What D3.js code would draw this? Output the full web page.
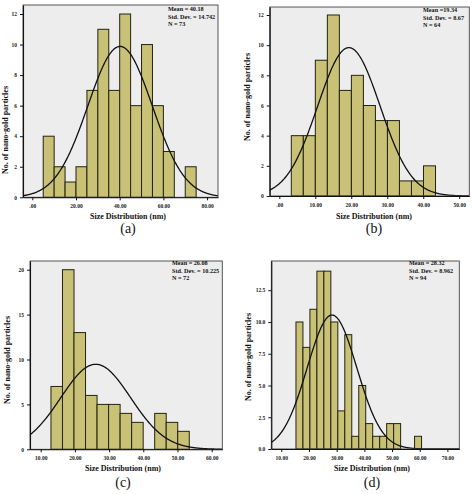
<!DOCTYPE html>
<html><head><meta charset="utf-8">
<script src="https://cdn.jsdelivr.net/npm/d3@7"></script>
<style>body{margin:0;background:#fff}svg{display:block}</style>
</head><body>
<svg id="c" width="474" height="494"></svg>
<script>
// ---- data ----
const panelLabels = ["(a)", "(b)", "(c)", "(d)"];
const binStartA = 5, binWidthA = 5;
const countsA = [4, 2, 1, 2, 7, 11, 7, 12, 6, 10, 6, 3, 0, 2];
const binStartB = 3.33, binWidthB = 3.34;
const countsB = [4, 4, 9, 12, 7, 8, 6, 5, 5, 1, 1, 2];
const binStartC = 13.0, binWidthC = 3.37;
const countsC = [7, 20, 13, 6, 5, 5, 4, 3, 0, 4, 3, 2];
const binStartD = 15.3, binWidthD = 2.52;
const countsD = [10, 8, 11, 14, 14, 10, 3, 9, 1, 5, 2, 1, 1, 2, 2, 0, 0, 1];
const means = [40.18, 19.34, 26.08, 28.32];
const stdDevs = [14.742, 8.67, 10.225, 8.962];
const ns = [73, 64, 72, 94];
const meanText = ["Mean = 40.18", "Mean =19.34", "Mean = 26.08", "Mean = 28.32"];
const sdText = ["Std. Dev. = 14.742", "Std. Dev. = 8.67", "Std. Dev. = 10.225", "Std. Dev. = 8.962"];
const nText = ["N = 73", "N = 64", "N = 72", "N = 94"];
const xTicksA = [0, 20, 40, 60, 80];
const xTicksB = [0, 10, 20, 30, 40, 50];
const xTicksC = [10, 20, 30, 40, 50, 60];
const xTicksD = [10, 20, 30, 40, 50, 60, 70];
const yTicksA = [0, 2, 4, 6, 8, 10, 12];
const yTicksB = [0, 2, 4, 6, 8, 10, 12];
const yTicksC = [0, 5, 10, 15, 20];
const yTicksD = [0, 2.5, 5, 7.5, 10, 12.5];
const xTitle = "Size Distribution (nm)";
const yTitle = "No. of nano-gold particles";

// ---- layout ----
const panels = [
  {counts: countsA, start: binStartA, w: binWidthA, xt: xTicksA, yt: yTicksA, yfmt: d => d,
   box: [23, 218, 5, 197.3], xd: [-4.26, 85], yd: [0, 12.59], tx: 128, ty: 219, ly: 233, yl: [5, 130], lg: [168, 11]},
  {counts: countsB, start: binStartB, w: binWidthB, xt: xTicksB, yt: yTicksB, yfmt: d => d,
   box: [269.7, 469.3, 7, 196], xd: [-2.67, 52.8], yd: [0, 12.53], tx: 374, ty: 219, ly: 233, yl: [247, 97], lg: [423, 12]},
  {counts: countsC, start: binStartC, w: binWidthC, xt: xTicksC, yt: yTicksC, yfmt: d => d,
   box: [30, 222.3, 261, 449.3], xd: [6.87, 63.1], yd: [0, 20.97], tx: 123, ty: 471, ly: 487, yl: [7, 360], lg: [172, 265]},
  {counts: countsD, start: binStartD, w: binWidthD, xt: xTicksD, yt: yTicksD, yfmt: d3.format(".1f"),
   box: [271.3, 459.3, 261, 449], xd: [6.39, 74.3], yd: [0, 14.8], tx: 372, ty: 471, ly: 487, yl: [248, 357], lg: [409, 265]}
];

const svg = d3.select("#c");
const serif = "Liberation Serif, Times New Roman, serif";
const xfmt = d => d === 0 ? ".00" : d3.format(".2f")(d);

panels.forEach((p, i) => {
  const [x0, x1, y0, y1] = p.box;
  const x = d3.scaleLinear().domain(p.xd).range([x0, x1]);
  const y = d3.scaleLinear().domain(p.yd).range([y1, y0]);
  const g = svg.append("g");
  g.append("rect").attr("x", x0).attr("y", y0).attr("width", x1 - x0).attr("height", y1 - y0)
    .attr("fill", "#ededed");
  const bins = p.counts.map((c, k) => ({a: p.start + k * p.w, b: p.start + (k + 1) * p.w, c}));
  g.selectAll("rect.bar").data(bins.filter(d => d.c > 0)).join("rect").attr("class", "bar")
    .attr("x", d => x(d.a)).attr("width", d => x(d.b) - x(d.a))
    .attr("y", d => y(d.c)).attr("height", d => y(0) - y(d.c))
    .attr("fill", "#c8c176").attr("stroke", "#232313").attr("stroke-width", 1);
  // normal curve
  const m = means[i], s = stdDevs[i], n = ns[i];
  const pts = d3.range(0, 301).map(k => {
    const xv = p.xd[0] + (p.xd[1] - p.xd[0]) * k / 300;
    const yv = n * p.w / (s * Math.sqrt(2 * Math.PI)) * Math.exp(-0.5 * ((xv - m) / s) ** 2);
    return [xv, yv];
  });
  g.append("path").datum(pts).attr("fill", "none").attr("stroke", "#111").attr("stroke-width", 1.3)
    .attr("d", d3.line().x(d => x(d[0])).y(d => y(d[1])));
  // frame
  g.append("rect").attr("x", x0).attr("y", y0).attr("width", x1 - x0).attr("height", y1 - y0)
    .attr("fill", "none").attr("stroke", "#444").attr("stroke-width", 0.9);
  // axes
  const xa = g.append("g").attr("transform", `translate(0,${y1})`)
    .call(d3.axisBottom(x).tickValues(p.xt).tickFormat(xfmt).tickSize(3).tickSizeOuter(0));
  const ya = g.append("g").attr("transform", `translate(${x0},0)`)
    .call(d3.axisLeft(y).tickValues(p.yt).tickFormat(p.yfmt).tickSize(3).tickSizeOuter(0));
  [xa, ya].forEach(a => {
    a.select(".domain").attr("stroke", "#111").attr("stroke-width", 1.1);
    a.selectAll(".tick line").attr("stroke", "#111");
    a.selectAll("text").attr("font-family", serif).attr("font-size", 5.5).attr("font-weight", "bold").attr("fill", "#222");
  });
  xa.selectAll("text").attr("dy", "0.9em");
  // legend
  [meanText[i], sdText[i], nText[i]].forEach((t, k) => {
    g.append("text").attr("x", p.lg[0]).attr("y", p.lg[1] + k * 7.6).attr("font-family", serif)
      .attr("font-size", 6.2).attr("font-weight", "bold").attr("fill", "#111").text(t);
  });
  // titles
  g.append("text").attr("x", p.tx).attr("y", p.ty).attr("text-anchor", "middle").attr("font-family", serif)
    .attr("font-size", 8).attr("font-weight", "bold").attr("fill", "#111").text(xTitle);
  g.append("text").attr("transform", `translate(${p.yl[0]},${p.yl[1]}) rotate(-90)`).attr("text-anchor", "middle")
    .attr("dy", "0.35em").attr("font-family", serif).attr("font-size", 8).attr("font-weight", "bold").attr("fill", "#111").text(yTitle);
  g.append("text").attr("x", p.tx).attr("y", p.ly).attr("text-anchor", "middle").attr("font-family", serif)
    .attr("font-size", 14).attr("fill", "#111").text(panelLabels[i]);
});
</script>
</body></html>
